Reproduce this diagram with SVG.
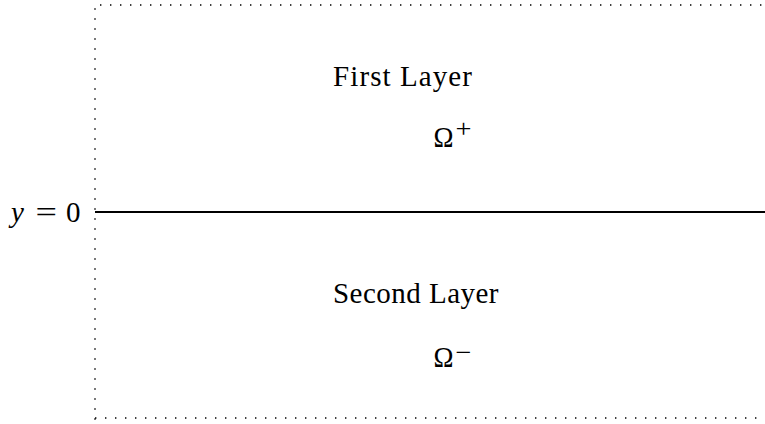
<svg xmlns="http://www.w3.org/2000/svg" width="765" height="424" viewBox="0 0 765 424">
<style>
.dot{fill:none;stroke:#000;stroke-width:1.4;stroke-dasharray:1.4 8.6}
.t{font-family:"Liberation Serif","DejaVu Serif",serif;font-size:29px;fill:#000}
.i{font-style:italic}
.sup{font-size:26px}
</style>
<rect width="765" height="424" fill="#fff"/>
<g id="frame">
<line class="dot" x1="100" y1="5" x2="765" y2="5"/>
<line class="dot" x1="95" y1="8.3" x2="95" y2="420"/>
<line class="dot" x1="95" y1="418" x2="765" y2="418"/>
</g>
<g id="connectors">
<line x1="95" y1="212" x2="765" y2="212" stroke="#000" stroke-width="2"/>
</g>
<g id="label-y0">
<text class="t i" x="11" y="222">y</text>
<text class="t" x="35.5" y="222" textLength="21.5" lengthAdjust="spacingAndGlyphs">=</text>
<text class="t" x="66" y="222">0</text>
</g>
<g id="first-layer">
<text class="t" x="333" y="86" textLength="139" lengthAdjust="spacing">First Layer</text>
<text class="t" x="433.5" y="147" textLength="20" lengthAdjust="spacingAndGlyphs">Ω</text>
<text class="t sup" x="455.5" y="136.5" textLength="16" lengthAdjust="spacingAndGlyphs">+</text>
</g>
<g id="second-layer">
<text class="t" x="333" y="302.5" textLength="165.5" lengthAdjust="spacing">Second Layer</text>
<text class="t" x="433.5" y="367" textLength="20" lengthAdjust="spacingAndGlyphs">Ω</text>
<text class="t sup" x="455.5" y="361" textLength="16" lengthAdjust="spacingAndGlyphs">−</text>
</g>
</svg>
